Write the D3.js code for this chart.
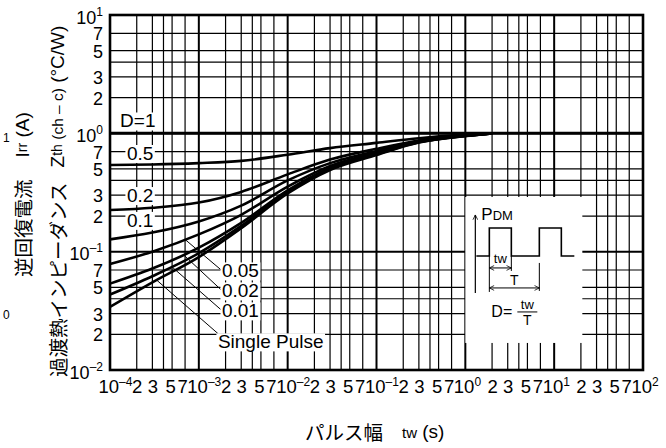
<!DOCTYPE html>
<html>
<head>
<meta charset="utf-8">
<script src="https://cdn.jsdelivr.net/npm/d3@7"></script>
<style>
body{margin:0;background:#fff;}
svg{font-family:"Liberation Sans",Arial,sans-serif;}
</style>
</head>
<body>
<div id="chart"></div>
<script>
// pulse width (s) and transient thermal impedance (°C/W)
var tw = [1e-4, 3e-4, 1e-3, 3e-3, 1e-2, 3e-2, 0.1, 0.3, 1, 2];
var zthD05 = [0.54, 0.545, 0.56, 0.585, 0.66, 0.75, 0.83, 0.91, 0.975, 1];
var zthD02 = [0.225, 0.235, 0.26, 0.32, 0.45, 0.60, 0.74, 0.87, 0.965, 1];
var zthD01 = [0.127, 0.145, 0.18, 0.245, 0.40, 0.56, 0.71, 0.86, 0.96, 1];
var zthD005 = [0.0786, 0.10, 0.14, 0.205, 0.355, 0.53, 0.69, 0.85, 0.955, 1];
var zthD002 = [0.0537, 0.072, 0.108, 0.175, 0.33, 0.51, 0.675, 0.845, 0.952, 1];
var zthD001 = [0.0434, 0.062, 0.097, 0.165, 0.32, 0.50, 0.665, 0.84, 0.95, 1];
var zthSingle = [0.0341, 0.055, 0.09, 0.158, 0.31, 0.49, 0.655, 0.835, 0.948, 1];
var dOneT = [1e-4, 1e2];
var dOneZ = [1, 1];

var curveNames = ["0.5", "0.2", "0.1", "0.05", "0.02", "0.01", "Single Pulse"];

// labels (left edge t, centre Zth) and where their leader lines touch the curve
var labelText = ["D=1", "0.5", "0.2", "0.1", "0.05", "0.02", "0.01", "Single Pulse"];
var labelT = [1.3e-4, 1.55e-4, 1.55e-4, 1.55e-4, 1.82e-3, 1.82e-3, 1.82e-3, 1.64e-3];
var labelZ = [1.28, 0.68, 0.3, 0.185, 0.0692, 0.0469, 0.0318, 0.0174];
var leaderT = [null, null, null, null, 7e-4, 6.7e-4, 4.95e-4, 3.35e-4];

// axis ticks
var xDecades = [-4, -3, -2, -1, 0, 1, 2];
var yDecades = [-2, -1, 0, 1];
var labelMant = [2, 3, 5, 7];
var gridMant = [2, 3, 4, 5, 7];

var W = 666, H = 448;
var svg = d3.select("#chart").append("svg").attr("width", W).attr("height", H);

var x = d3.scaleLog().domain([1e-4, 1e2]).range([110, 643]);
var y = d3.scaleLog().domain([1e-2, 1e1]).range([370, 15]);

function ticksFor(decs, mants){
	var out = [];
	decs.forEach(function(e, k){
		out.push(Math.pow(10, e));
		if (k < decs.length - 1) mants.forEach(function(m){ out.push(m * Math.pow(10, e)); });
	});
	return out;
}
function isDecade(v){ return Math.abs(Math.log10(v) - Math.round(Math.log10(v))) < 1e-9; }

var gridX = ticksFor(xDecades, gridMant);
var gridY = ticksFor(yDecades, gridMant);

var grid = svg.append("g");
grid.selectAll(".gx").data(gridX).enter().append("line")
	.attr("x1", function(d){ return x(d); })
	.attr("x2", function(d){ return x(d); })
	.attr("y1", y.range()[1]).attr("y2", y.range()[0])
	.attr("stroke", "#000")
	.attr("stroke-width", function(d){ return isDecade(d) ? 2 : 1.2; });
grid.selectAll(".gy").data(gridY).enter().append("line")
	.attr("y1", function(d){ return y(d); })
	.attr("y2", function(d){ return y(d); })
	.attr("x1", x.range()[0]).attr("x2", x.range()[1])
	.attr("stroke", "#000")
	.attr("stroke-width", function(d){ return isDecade(d) ? 2 : 1.2; });

// axes
var xAxis = d3.axisBottom(x).tickValues(ticksFor(xDecades, labelMant)).tickSize(0).tickPadding(10).tickFormat("");
var gx = svg.append("g").attr("transform", "translate(0," + y.range()[0] + ")").call(xAxis);
gx.select(".domain").remove();
gx.attr("font-family", null).attr("font-size", null);
gx.selectAll(".tick text").each(function(d){
	var t = d3.select(this).attr("font-size", 18.5).attr("fill", "#000");
	if (isDecade(d)){
		var e = Math.round(Math.log10(d));
		t.attr("text-anchor", "start").attr("x", -12);
		t.append("tspan").text("10");
		t.append("tspan").attr("font-size", 12).attr("dy", -7).text(e < 0 ? "\u2013" + (-e) : e);
	} else {
		var m = Math.round(d / Math.pow(10, Math.floor(Math.log10(d))));
		t.attr("text-anchor", "middle").attr("x", m == 5 ? -2 : (m == 7 ? -3 : 0)).text(m);
	}
});

var yAxis = d3.axisLeft(y).tickValues(ticksFor(yDecades, labelMant)).tickSize(0).tickPadding(7).tickFormat("");
var gy = svg.append("g").attr("transform", "translate(" + x.range()[0] + ",0)").call(yAxis);
gy.select(".domain").remove();
gy.attr("font-family", null).attr("font-size", null);
gy.selectAll(".tick text").each(function(d){
	var t = d3.select(this).attr("font-size", 18).attr("fill", "#000").attr("text-anchor", "end");
	if (isDecade(d)){
		var e = Math.round(Math.log10(d));
		t.attr("dy", "0.45em");
		t.append("tspan").text("10");
		t.append("tspan").attr("font-size", 12).attr("dy", -8).text(e < 0 ? "\u2013" + (-e) : e);
	} else {
		t.attr("dy", "0.36em").text(Math.round(d / Math.pow(10, Math.floor(Math.log10(d)))));
	}
});

// curves
var allZ = [zthD05, zthD02, zthD01, zthD005, zthD002, zthD001, zthSingle];
var line = d3.line()
	.x(function(d, i){ return x(tw[i]); })
	.y(function(d){ return y(d); })
	.curve(d3.curveMonotoneX);

svg.append("line")
	.attr("x1", x(dOneT[0])).attr("x2", x(dOneT[1]))
	.attr("y1", y(dOneZ[0])).attr("y2", y(dOneZ[1]))
	.attr("stroke", "#000").attr("stroke-width", 3);

svg.selectAll(".zth").data(allZ).enter().append("path")
	.attr("class", "zth")
	.attr("d", line)
	.attr("fill", "none")
	.attr("stroke", "#000")
	.attr("stroke-width", 2.6)
	.attr("stroke-linejoin", "round");

function zthAt(vals, t){
	var lt = Math.log10(t);
	for (var i = 0; i < tw.length - 1; i++){
		var a = Math.log10(tw[i]), b = Math.log10(tw[i + 1]);
		if (lt >= a && lt <= b){
			var f = (lt - a) / (b - a);
			return Math.pow(10, Math.log10(vals[i]) + f * (Math.log10(vals[i + 1]) - Math.log10(vals[i])));
		}
	}
	return vals[0];
}

// leader lines
labelText.forEach(function(s, i){
	if (leaderT[i] == null) return;
	var vals = allZ[curveNames.indexOf(s)];
	var ly = y(labelZ[i]) + (s == "Single Pulse" ? -8 : 0);
	svg.append("line")
		.attr("x1", x(leaderT[i])).attr("y1", y(zthAt(vals, leaderT[i])))
		.attr("x2", x(labelT[i])).attr("y2", ly)
		.attr("stroke", "#000").attr("stroke-width", 1);
});

// curve labels with white backing
var lab = svg.append("g");
labelText.forEach(function(s, i){
	var g = lab.append("g");
	var t = g.append("text")
		.attr("x", x(labelT[i])).attr("y", y(labelZ[i]))
		.attr("dy", "0.36em")
		.attr("font-size", 19)
		.attr("fill", "#000")
		.text(s);
	var b = t.node().getBBox();
	g.insert("rect", "text")
		.attr("x", b.x - 1.5).attr("y", b.y + 2)
		.attr("width", b.width + 3).attr("height", b.height - 3)
		.attr("fill", "#fff");
});

// inset: duty cycle definition
var ix = x(1), iy = y(0.29);
var inset = svg.append("g").attr("transform", "translate(" + ix + "," + iy + ")");
inset.append("rect").attr("x", 0).attr("y", 0).attr("width", 117).attr("height", 146).attr("fill", "#fff");

var defs = svg.append("defs");
defs.append("marker").attr("id", "ah").attr("viewBox", "0 0 10 10").attr("refX", 9).attr("refY", 5)
	.attr("markerWidth", 6).attr("markerHeight", 6).attr("orient", "auto-start-reverse")
	.attr("markerUnits", "userSpaceOnUse")
	.append("path").attr("d", "M1,1 L9,5 L1,9").attr("fill", "none").attr("stroke", "#000").attr("stroke-width", 1.3);

inset.append("line").attr("x1", 10).attr("y1", 96).attr("x2", 10).attr("y2", 18)
	.attr("stroke", "#000").attr("stroke-width", 1.2).attr("marker-end", "url(#ah)");
var pdm = inset.append("text").attr("x", 16).attr("y", 23).attr("fill", "#000");
pdm.append("tspan").attr("font-size", 17).text("P");
pdm.append("tspan").attr("font-size", 13).text("DM");

inset.append("path")
	.attr("d", "M11,59 H24 V31 H46 V59 H74 V31 H96 V59 H109")
	.attr("fill", "none").attr("stroke", "#000").attr("stroke-width", 1.6);
inset.append("line").attr("x1", 24).attr("y1", 59).attr("x2", 24).attr("y2", 95).attr("stroke", "#000").attr("stroke-width", 1);
inset.append("line").attr("x1", 46).attr("y1", 59).attr("x2", 46).attr("y2", 74).attr("stroke", "#000").attr("stroke-width", 1);
inset.append("line").attr("x1", 74).attr("y1", 66).attr("x2", 74).attr("y2", 94).attr("stroke", "#000").attr("stroke-width", 1);
inset.append("line").attr("x1", 24).attr("y1", 71).attr("x2", 46).attr("y2", 71)
	.attr("stroke", "#000").attr("stroke-width", 1).attr("marker-start", "url(#ah)").attr("marker-end", "url(#ah)");
inset.append("line").attr("x1", 24).attr("y1", 91).attr("x2", 74).attr("y2", 91)
	.attr("stroke", "#000").attr("stroke-width", 1).attr("marker-start", "url(#ah)").attr("marker-end", "url(#ah)");
inset.append("text").attr("x", 35).attr("y", 66).attr("text-anchor", "middle").attr("font-size", 13).text("tw");
inset.append("text").attr("x", 49).attr("y", 88).attr("text-anchor", "middle").attr("font-size", 14).text("T");
inset.append("text").attr("x", 26).attr("y", 120).attr("font-size", 16).text("D=");
inset.append("text").attr("x", 62).attr("y", 112).attr("text-anchor", "middle").attr("font-size", 13).text("tw");
inset.append("line").attr("x1", 52).attr("x2", 72).attr("y1", 115).attr("y2", 115).attr("stroke", "#000").attr("stroke-width", 1);
inset.append("text").attr("x", 62).attr("y", 128).attr("text-anchor", "middle").attr("font-size", 14).text("T");

// frame
svg.append("rect")
	.attr("x", x.range()[0]).attr("y", y.range()[1])
	.attr("width", x.range()[1] - x.range()[0])
	.attr("height", y.range()[0] - y.range()[1])
	.attr("fill", "none").attr("stroke", "#000").attr("stroke-width", 2.6);

// axis titles
var jp = "'Noto Sans CJK JP', sans-serif";
var t1 = svg.append("text").attr("transform", "translate(22,277) rotate(-90)")
	.attr("dominant-baseline", "central").attr("fill", "#000");
t1.append("tspan").attr("font-family", jp).attr("font-size", 19.5).text("逆回復電流");
t1.append("tspan").attr("dx", 22).attr("font-size", 19).text("I");
t1.append("tspan").attr("font-size", 14).text("rr");
t1.append("tspan").attr("font-size", 19).text(" (A)");

var t2 = svg.append("text").attr("transform", "translate(57,377) rotate(-90)")
	.attr("dominant-baseline", "central").attr("fill", "#000");
t2.append("tspan").attr("font-family", jp).attr("font-size", 19.5).text("過渡熱インピーダンス");
t2.append("tspan").attr("dx", 15).attr("font-size", 19).text("Z");
t2.append("tspan").attr("font-size", 14).text("th");
t2.append("tspan").attr("font-size", 15.5).text(" (ch \u2013 c)");
t2.append("tspan").attr("font-size", 19).text(" (\u00b0C/W)");

svg.append("text").attr("x", 305).attr("y", 431).attr("dominant-baseline", "central")
	.attr("font-family", jp).attr("font-size", 19.5).text("パルス幅");
var t3 = svg.append("text").attr("x", 402).attr("y", 438);
t3.append("tspan").attr("font-size", 15).text("tw");
t3.append("tspan").attr("font-size", 19).text(" (s)");

// clipped fragments at the left edge
svg.append("text").attr("x", 3).attr("y", 142).attr("font-size", 12).text("1");
svg.append("text").attr("x", 3).attr("y", 319).attr("font-size", 12).text("0");
</script>
</body>
</html>
